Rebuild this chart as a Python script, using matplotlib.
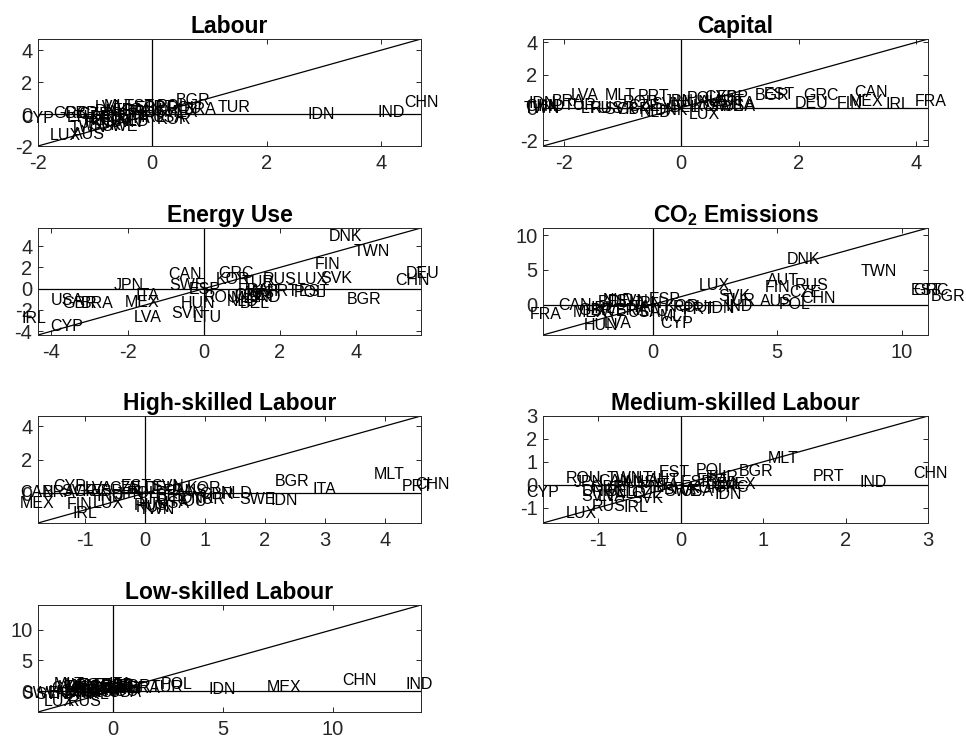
import matplotlib
matplotlib.use("Agg")
import matplotlib.pyplot as plt

plt.rcParams['font.family'] = ['Liberation Sans', 'DejaVu Sans']
plt.rcParams['mathtext.fontset'] = 'custom'
plt.rcParams['mathtext.rm'] = 'Liberation Sans'
plt.rcParams['mathtext.bf'] = 'Liberation Sans:bold'
plt.rcParams['axes.unicode_minus'] = False

# --- data: (x, y) per country for each panel ---
countries = ['AUS', 'AUT', 'BEL', 'BGR', 'BRA', 'CAN', 'CHN', 'CYP', 'CZE', 'DEU',
             'DNK', 'ESP', 'EST', 'FIN', 'FRA', 'GBR', 'GRC', 'HUN', 'IDN', 'IND',
             'IRL', 'ITA', 'JPN', 'KOR', 'LTU', 'LUX', 'LVA', 'MEX', 'MLT', 'NLD',
             'POL', 'PRT', 'ROU', 'RUS', 'SVK', 'SVN', 'SWE', 'TUR', 'TWN', 'USA']

labour_x = [-1.40, -0.80, -0.60, 0.41, 0.55, -0.40, 4.40, -2.30, -1.30, -1.10,
            -1.00, -0.30, -0.50, -0.90, -0.70, -1.55, -1.73, -1.20, 2.72, 3.94,
            -0.20, -0.45, -1.25, 0.08, -1.50, -1.79, -1.00, 0.20, -0.85, -0.60,
            0.08, -0.15, 0.25, -0.35, -1.10, -0.75, -0.90, 1.15, -1.45, 0.00]
labour_y = [-1.25, 0.10, -0.10, 0.82, 0.30, 0.20, 0.72, -0.30, 0.00, -0.20,
            0.15, 0.35, 0.45, -0.30, 0.25, 0.05, 0.05, -0.40, -0.05, 0.10,
            -0.20, -0.30, -0.60, -0.35, -0.20, -1.34, 0.40, 0.10, 0.45, -0.45,
            0.50, 0.40, 0.35, 0.10, -0.70, -0.55, -0.75, 0.39, -0.85, -0.20]

capital_x = [0.30, 0.55, -0.20, 1.25, -2.20, 2.94, -2.65, 0.40, -0.90, 1.94,
             -0.45, 0.60, 1.40, 2.65, 3.97, -1.10, 2.08, -0.10, -2.60, -2.45,
             3.48, 0.85, -0.30, 0.20, -1.70, 0.13, -1.87, 2.85, -1.30, -0.70,
             0.10, -0.73, -1.00, -1.55, -1.30, -0.50, 0.45, -2.00, -2.68, 0.70]
capital_y = [0.30, 0.40, 0.00, 0.75, 0.35, 0.91, 0.05, 0.60, 0.10, 0.28,
             -0.20, 0.65, 0.80, 0.28, 0.36, -0.10, 0.77, 0.30, 0.25, 0.10,
             0.20, 0.25, 0.40, 0.10, -0.05, -0.44, 0.75, 0.35, 0.75, -0.30,
             0.55, 0.70, 0.30, -0.05, -0.10, 0.20, 0.05, 0.15, -0.05, 0.10]

energy_x = [1.00, 1.20, 0.95, 3.75, -3.23, -0.94, 5.02, -4.02, 0.80, 5.30,
            3.28, -0.40, 2.50, 2.90, 0.90, -3.71, 0.38, -0.61, 1.10, 1.30,
            -4.77, -1.78, -2.35, 0.32, -0.28, 2.45, -1.84, -2.06, 0.70, 0.60,
            2.36, 1.65, 0.00, 1.56, 3.06, -0.85, -0.90, 1.00, 3.92, -4.02]
energy_y = [-0.50, -0.30, -1.40, -0.97, -1.43, 1.32, 0.80, -3.58, -0.60, 1.47,
            4.90, -0.10, -0.30, 2.24, -0.20, -1.43, 1.41, -1.43, -0.70, -0.80,
            -2.81, -0.67, 0.31, 0.86, -2.75, 0.85, -2.75, -1.28, -0.90, -1.20,
            -0.37, -0.30, -0.83, 0.85, 0.92, -2.35, 0.34, 0.60, 3.46, -1.13]

co2_x = [4.31, 4.58, -2.20, 11.14, -1.50, -3.79, 5.98, 0.30, 5.50, -1.80,
         5.38, -0.16, 10.34, 4.51, -4.92, -3.00, 10.45, -2.78, 2.20, 2.91,
         -2.50, -1.00, -0.80, 0.50, -0.50, 1.84, -1.98, -3.20, 0.30, -2.00,
         5.05, 1.20, 0.80, 5.72, 2.64, -1.50, -2.50, 2.80, 8.33, -1.00]
co2_y = [0.47, 3.50, 0.30, 1.20, -0.80, -0.20, 0.93, -2.80, 1.80, 0.50,
         6.50, 0.73, 2.00, 2.40, -1.50, -0.80, 2.00, -3.06, -0.60, -0.30,
         -0.60, -0.40, 0.20, -0.30, -1.00, 2.75, -2.80, -1.20, -1.80, 0.60,
         0.00, -0.70, -0.50, 2.75, 1.20, 0.40, -1.00, 0.60, 4.70, -1.20]

high_x = [0.50, -0.30, 0.20, 2.16, -1.70, -2.08, 4.50, -1.52, -0.60, 0.00,
          0.60, -0.90, -0.40, -1.30, 0.30, 0.90, -1.20, -0.15, 2.10, -0.80,
          -1.21, 2.80, -0.50, 0.70, -0.10, -0.86, -1.00, -2.08, 3.82, 1.27,
          -0.30, 4.28, 0.45, -0.18, -1.40, 0.10, 1.57, 0.80, -0.10, 0.20]
high_y = [0.10, 0.30, -0.20, 0.70, 0.05, 0.05, 0.50, 0.40, 0.25, 0.30,
          -0.30, 0.10, 0.40, -0.70, 0.10, -0.10, 0.10, -0.85, -0.46, -0.20,
          -1.20, 0.24, -0.10, 0.30, -0.40, -0.60, 0.30, -0.60, 1.10, 0.00,
          0.00, 0.40, -0.50, -0.75, 0.10, 0.40, -0.40, -0.40, -1.00, -0.60]

medium_x = [-0.70, -0.40, -0.90, 0.71, -0.20, -1.00, 2.82, -1.87, -0.60, 0.30,
            -1.20, 0.00, -0.26, -0.50, 0.20, -1.10, 0.40, -0.80, 0.41, 2.17,
            -0.69, -0.30, -1.30, 0.10, -0.55, -1.39, -1.00, 0.50, 1.05, -0.80,
            0.18, 1.60, -1.40, -1.08, -0.60, -1.20, -0.20, 0.30, -0.90, 0.00]
medium_y = [0.10, 0.20, -0.30, 0.57, -0.20, 0.15, 0.47, -0.33, -0.40, 0.00,
            -0.30, 0.10, 0.55, -0.10, 0.20, -0.10, -0.10, 0.05, -0.44, 0.09,
            -1.00, -0.05, 0.10, -0.15, 0.25, -1.27, -0.50, 0.00, 1.15, -0.40,
            0.60, 0.36, 0.25, -0.94, -0.60, -0.50, -0.30, 0.30, 0.25, -0.30]

low_x = [-2.00, -1.80, -1.50, 0.20, 0.68, -1.20, 10.43, -2.80, -2.40, -1.00,
         -2.20, -0.50, -1.60, -2.60, -0.80, -0.30, -0.60, -2.90, 4.35, 13.30,
         -1.30, -0.20, -2.00, -1.00, -2.50, -3.15, -2.20, 6.98, -2.70, -1.70,
         2.18, 0.00, -0.40, -2.03, -1.40, -3.50, -4.13, 1.73, -0.90, -0.20]
low_y = [0.20, -0.30, 0.50, 0.80, 0.50, 0.10, 1.77, 0.40, 0.00, 0.60,
         -0.40, 0.90, 0.90, -0.60, 0.30, 0.40, 0.80, -0.20, 0.32, 1.07,
         -0.50, 1.00, 0.70, -0.20, 0.60, -1.72, 0.90, 0.54, 1.00, 0.30,
         1.07, 0.30, 0.00, -1.70, 0.00, -0.50, -0.37, 0.54, 0.90, -0.20]

# title, x, y, axis range, ticks, axes rect
panels = [
    ("Labour", labour_x, labour_y, (-2.0, 4.7), [-2, 0, 2, 4], [-2, 0, 2, 4],
     [0.0393, 0.8024, 0.3965, 0.1448]),
    ("Capital", capital_x, capital_y, (-2.35, 4.2), [-2, 0, 2, 4], [-2, 0, 2, 4],
     [0.5621, 0.8024, 0.3986, 0.1448]),
    ("Energy Use", energy_x, energy_y, (-4.35, 5.7), [-4, -2, 0, 2, 4], [-4, -2, 0, 2, 4],
     [0.0393, 0.5467, 0.3965, 0.1448]),
    (r"CO$_\mathbf{2}$ Emissions", co2_x, co2_y, (-4.4, 11.05), [0, 5, 10], [0, 5, 10],
     [0.5621, 0.5467, 0.3986, 0.1448]),
    ("High-skilled Labour", high_x, high_y, (-1.78, 4.6), [-1, 0, 1, 2, 3, 4], [0, 2, 4],
     [0.0393, 0.2923, 0.3965, 0.1448]),
    ("Medium-skilled Labour", medium_x, medium_y, (-1.67, 3.0), [-1, 0, 1, 2, 3], [-1, 0, 1, 2, 3],
     [0.5621, 0.2923, 0.3986, 0.1448]),
    ("Low-skilled Labour", low_x, low_y, (-3.4, 14.0), [0, 5, 10], [0, 5, 10],
     [0.0393, 0.0365, 0.3965, 0.1448]),
]

fig = plt.figure(figsize=(9.66, 7.39), dpi=100)

for title, xs, ys, (lo, hi), xt, yt, rect in panels:
    ax = fig.add_axes(rect)
    ax.plot([lo, hi], [lo, hi], color='black', lw=0.9)
    ax.axhline(0, color='black', lw=0.9)
    ax.axvline(0, color='black', lw=0.9)
    for name, x, y in zip(countries, xs, ys):
        ax.text(x, y, name, fontsize=11.5, ha='left', va='center', color='black')
    ax.set_xlim(lo, hi)
    ax.set_ylim(lo, hi)
    ax.set_xticks(xt)
    ax.set_yticks(yt)
    ax.tick_params(direction='in', length=3.5, width=0.7, top=True, right=True,
                   labelsize=14.5, colors='#262626')
    ax.tick_params(axis='x', pad=6)
    ax.tick_params(axis='y', pad=4)
    for s in ax.spines.values():
        s.set_color('#262626')
        s.set_linewidth(0.7)
    ax.set_title(title, fontsize=16.5, fontweight='bold', pad=4)

fig.savefig("out.png", dpi=100)
